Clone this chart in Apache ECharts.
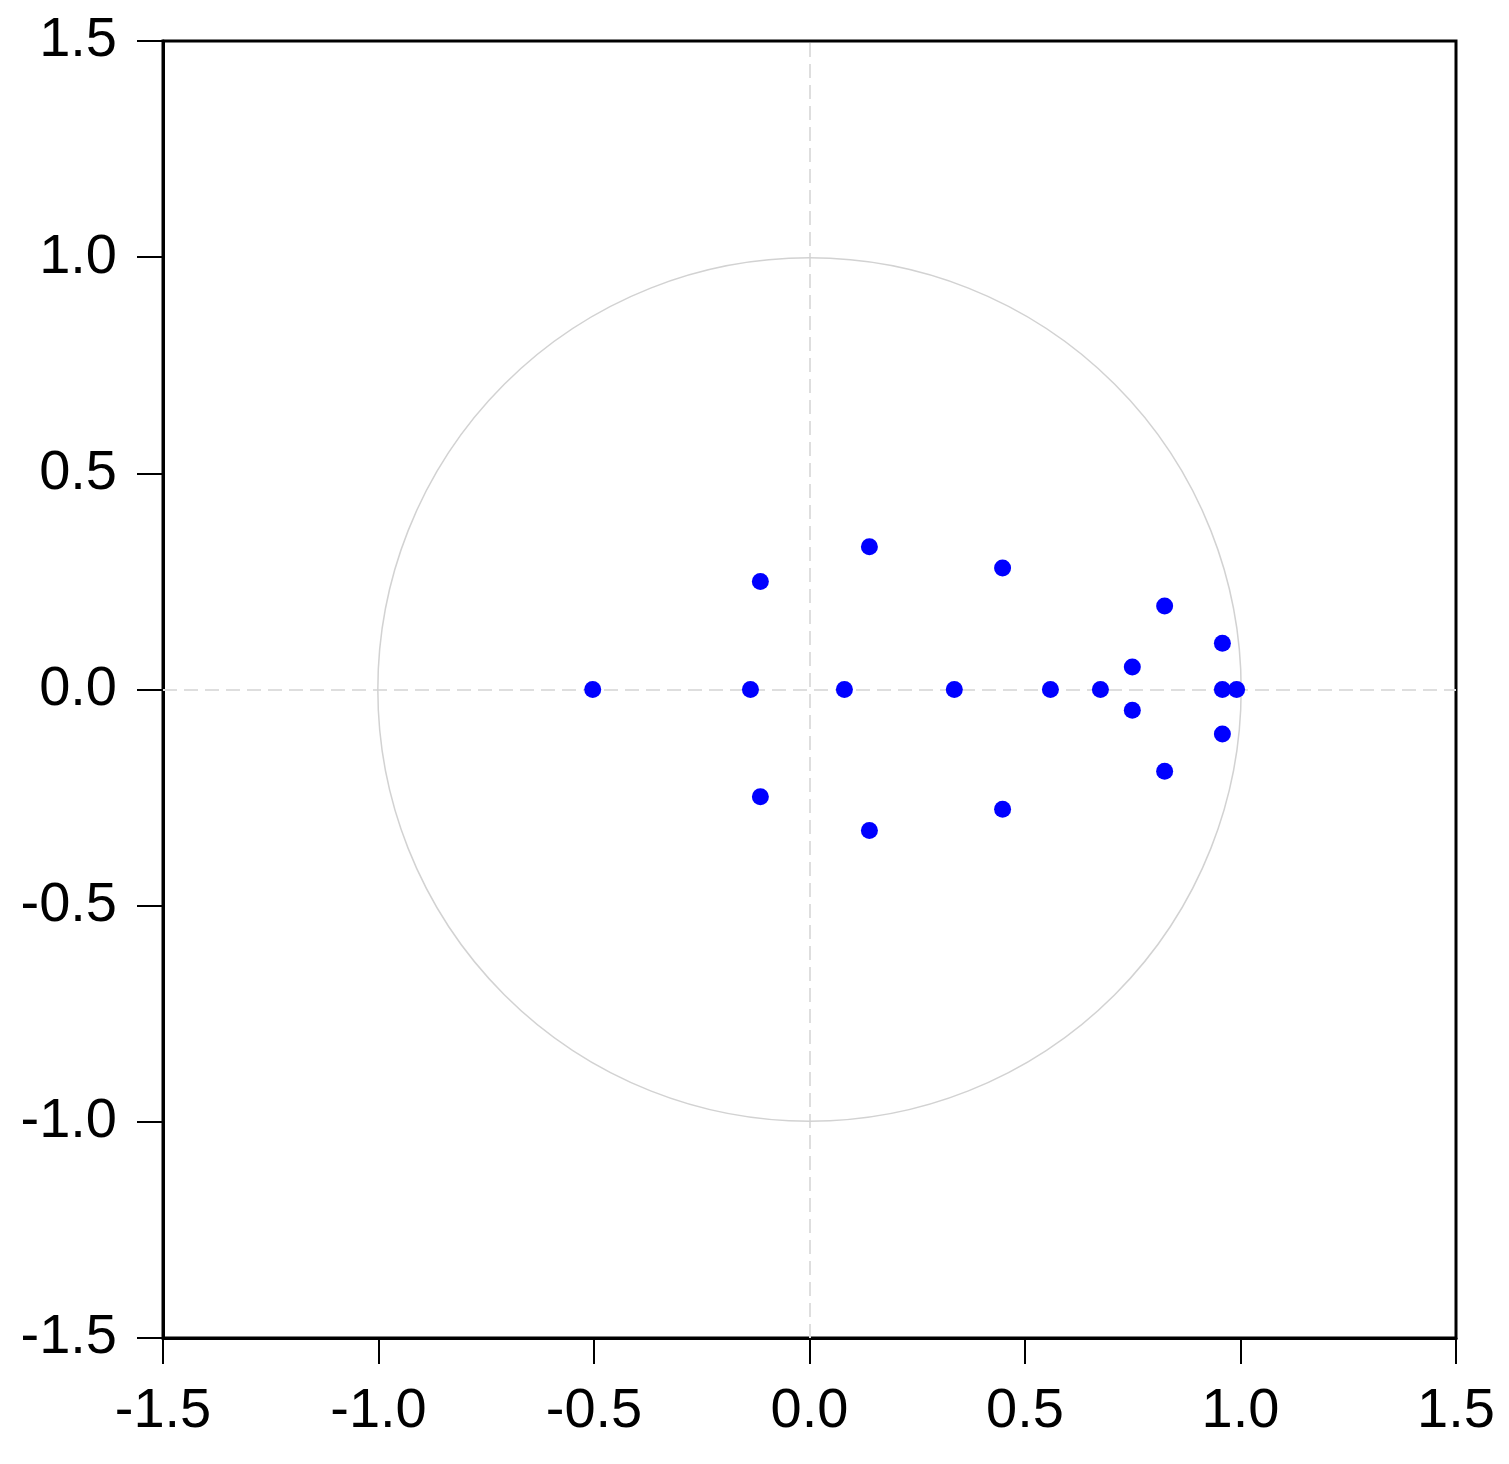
<!DOCTYPE html>
<html>
<head>
<meta charset="utf-8">
<script src="https://cdn.jsdelivr.net/npm/echarts@6/dist/echarts.min.js"></script>
<style>
  html, body { margin: 0; padding: 0; background: #fff; }
  #chart { width: 1509px; height: 1464px; }
</style>
</head>
<body>
<div id="chart"></div>
<script>
// inverse roots: real and imaginary parts
const rootsRe = [-0.503, -0.137, -0.114, -0.114, 0.081, 0.139, 0.139, 0.336, 0.448, 0.448,
                 0.559, 0.675, 0.749, 0.749, 0.824, 0.824, 0.958, 0.958, 0.958, 0.991];
const rootsIm = [0, 0, 0.25, -0.248, 0, 0.33, -0.326, 0, 0.281, -0.277,
                 0, 0, 0.052, -0.048, 0.193, -0.189, 0.107, -0.103, 0, 0];
const axisTicks = [-1.5, -1.0, -0.5, 0.0, 0.5, 1.0, 1.5];
const unitRadius = [1];

const points = rootsRe.map((re, i) => [re, rootsIm[i]]);

const labelFont = { fontFamily: 'Liberation Sans, Arial, sans-serif', fontSize: 56, color: '#000' };

const axisCommon = {
  type: 'value',
  min: axisTicks[0],
  max: axisTicks[axisTicks.length - 1],
  interval: 0.5,
  splitLine: { show: false },
  axisLine: { show: true, onZero: false, lineStyle: { color: '#000', width: 3 } },
  axisTick: { show: true, inside: false, length: 26, lineStyle: { color: '#000', width: 2 } },
  axisLabel: Object.assign({ formatter: v => v.toFixed(1) }, labelFont)
};

const chart = echarts.init(document.getElementById('chart'));
chart.setOption({
  animation: false,
  backgroundColor: '#fff',
  grid: {
    left: 163, right: 53, top: 41, bottom: 126,
    show: true, borderColor: '#000', borderWidth: 3, backgroundColor: 'transparent'
  },
  xAxis: Object.assign({}, axisCommon, {
    axisLabel: Object.assign({}, axisCommon.axisLabel, { margin: 46 })
  }),
  yAxis: Object.assign({}, axisCommon, {
    axisLabel: Object.assign({}, axisCommon.axisLabel, { margin: 46 })
  }),
  series: [
    {
      // unit circle
      type: 'custom',
      silent: true,
      data: unitRadius.map(r => [0, 0, r]),
      renderItem: (params, api) => {
        const c = api.coord([api.value(0), api.value(1)]);
        const s = api.size([api.value(2), api.value(2)]);
        return {
          type: 'circle',
          shape: { cx: c[0], cy: c[1], r: (s[0] + s[1]) / 2 },
          style: { fill: 'none', stroke: '#d2d2d2', lineWidth: 1.5 }
        };
      },
      z: 1
    },
    {
      type: 'scatter',
      data: points,
      symbol: 'circle',
      symbolSize: 17,
      itemStyle: { color: '#0000ff', opacity: 1 },
      z: 3,
      markLine: {
        silent: true,
        symbol: 'none',
        label: { show: false },
        lineStyle: { color: '#dedede', width: 2, type: [14, 7] },
        data: [{ xAxis: 0 }, { yAxis: 0 }],
        z: 1
      }
    }
  ]
});
</script>
</body>
</html>
